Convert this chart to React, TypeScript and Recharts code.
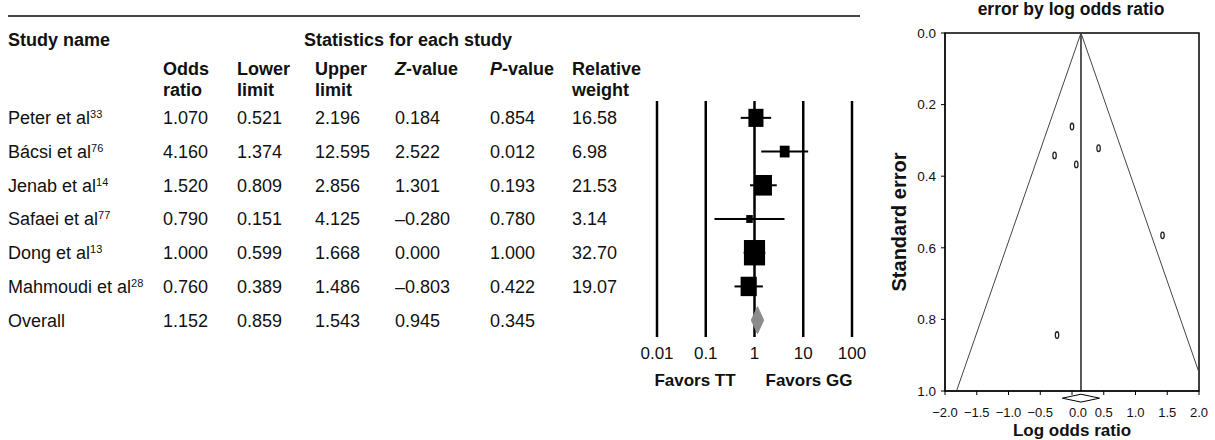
import React from 'react';
import {
  ComposedChart,
  ScatterChart,
  Scatter,
  XAxis,
  YAxis,
  ReferenceLine,
  ReferenceArea,
  ErrorBar,
} from 'recharts';

// study table
const studies = ['Peter et al', 'Bácsi et al', 'Jenab et al', 'Safaei et al', 'Dong et al', 'Mahmoudi et al'];
const refs = ['33', '76', '14', '77', '13', '28'];
const oddsRatio = [1.07, 4.16, 1.52, 0.79, 1.0, 0.76];
const lowerLimit = [0.521, 1.374, 0.809, 0.151, 0.599, 0.389];
const upperLimit = [2.196, 12.595, 2.856, 4.125, 1.668, 1.486];
const zValue = [0.184, 2.522, 1.301, -0.28, 0.0, -0.803];
const pValue = [0.854, 0.012, 0.193, 0.78, 1.0, 0.422];
const relWeight = [16.58, 6.98, 21.53, 3.14, 32.7, 19.07];
// overall: odds ratio, lower, upper, z, p
const overallStats = [1.152, 0.859, 1.543, 0.945, 0.345];

const forestTicks = [0.01, 0.1, 1, 10, 100];
const funnelXTicks = [-2, -1.5, -1, -0.5, 0, 0.5, 1, 1.5, 2];
const funnelYTicks = [0, 0.2, 0.4, 0.6, 0.8, 1.0];

const COLS = [163, 237, 315, 395, 490, 572];
const FONT = 'Arial, "Liberation Sans", Helvetica, sans-serif';
const INK = '#111';

const f3 = (v: number) => (v < 0 ? '–' : '') + Math.abs(v).toFixed(3);

const forestRows = studies.map((name, i) => ({
  x: oddsRatio[i],
  y: i,
  err: [oddsRatio[i] - lowerLimit[i], upperLimit[i] - oddsRatio[i]],
  w: relWeight[i],
}));

const ovRow = studies.length;
const overallDiamond = [
  { x: overallStats[1], y: ovRow },
  { x: overallStats[0], y: ovRow - 0.4 },
  { x: overallStats[2], y: ovRow },
  { x: overallStats[0], y: ovRow + 0.4 },
  { x: overallStats[1], y: ovRow },
];

// funnel: log odds ratio vs standard error
const funnelPts = studies.map((_, i) => ({
  x: Math.log(oddsRatio[i]),
  y: (Math.log(upperLimit[i]) - Math.log(lowerLimit[i])) / (2 * 1.96),
}));
const pooled = Math.log(overallStats[0]);
const pooledLo = Math.log(overallStats[1]);
const pooledHi = Math.log(overallStats[2]);
const DIAMOND_Y = 1.02;
const DIAMOND_H = 0.011;

const RowTick = (props: any) => {
  const { y, payload } = props;
  const i = payload.value as number;
  let name = 'Overall';
  let sup = '';
  let cells: string[] = [];
  if (i < studies.length) {
    name = studies[i];
    sup = refs[i];
    cells = [f3(oddsRatio[i]), f3(lowerLimit[i]), f3(upperLimit[i]), f3(zValue[i]), f3(pValue[i]), relWeight[i].toFixed(2)];
  } else {
    cells = overallStats.map(f3);
  }
  return (
    <g fill={INK} fontSize={18}>
      <text x={8} y={y} dy="0.36em">
        {name}
        {sup && (
          <tspan fontSize={11} dy={-6}>
            {sup}
          </tspan>
        )}
      </text>
      {cells.map((c, j) => (
        <text key={j} x={COLS[j]} y={y} dy="0.36em">
          {c}
        </text>
      ))}
    </g>
  );
};

const WeightBox = (props: any) => {
  const { cx, cy, payload } = props;
  const w = 3.7 * Math.sqrt(payload.w);
  const h = w * 1.2;
  return <rect x={cx - w / 2} y={cy - h / 2} width={w} height={h} fill="#000" />;
};

const StudyDot = (props: any) => {
  const { cx, cy } = props;
  return <ellipse cx={cx} cy={cy} rx={1.7} ry={3.3} fill="none" stroke="#222" strokeWidth={1.3} />;
};

const FunnelXTick = (props: any) => {
  const { x, y, payload } = props;
  const v = payload.value as number;
  const label = (v < 0 ? '−' : '') + Math.abs(v).toFixed(1);
  return (
    <text x={x + (v === 0 ? 6 : 0)} y={y} dy="0.71em" textAnchor="middle" fontSize={13} fill={INK}>
      {label}
    </text>
  );
};

const Nothing = () => <g />;

export default function App() {
  return (
    <div style={{ position: 'relative', width: 1215, height: 440, overflow: 'hidden', fontFamily: FONT, background: '#fff' }}>
      <style>{`body{margin:0}`}</style>

      {/* forest plot with table rows as y ticks */}
      <div style={{ position: 'absolute', left: 0, top: 0 }}>
        <ComposedChart width={870} height={440} margin={{ top: 101, right: 18, bottom: 73, left: 0 }}>
          <XAxis
            type="number"
            dataKey="x"
            scale="log"
            domain={[0.01, 100]}
            ticks={forestTicks}
            interval={0}
            allowDataOverflow
            tickFormatter={(v) => String(v)}
            axisLine={false}
            tickLine={false}
            tickSize={0}
            tickMargin={10}
            height={30}
            tick={{ fill: INK, fontSize: 17 }}
          />
          <YAxis
            type="number"
            dataKey="y"
            domain={[-0.5, 6.5]}
            reversed
            allowDataOverflow
            ticks={[0, 1, 2, 3, 4, 5, 6]}
            interval={0}
            width={657}
            axisLine={false}
            tickLine={false}
            tick={<RowTick />}
          />
          {forestTicks.map((t) => (
            <ReferenceLine key={t} x={t} stroke="#000" strokeWidth={2.5} />
          ))}
          <Scatter data={forestRows} shape={<WeightBox />} isAnimationActive={false}>
            <ErrorBar dataKey="err" direction="x" width={0} stroke="#000" strokeWidth={2} />
          </Scatter>
          <Scatter
            data={overallDiamond}
            shape={<Nothing />}
            line={{ fill: '#8c8c8c', stroke: '#8c8c8c', strokeWidth: 1 }}
            lineType="joint"
            isAnimationActive={false}
          />
        </ComposedChart>
      </div>

      {/* funnel plot */}
      <div style={{ position: 'absolute', left: 880, top: 0 }}>
        <ScatterChart width={335} height={440} margin={{ top: 33, right: 16, bottom: 19, left: 0 }}>
          <XAxis
            type="number"
            dataKey="x"
            domain={[-2, 2]}
            ticks={funnelXTicks}
            interval={0}
            allowDataOverflow
            height={30}
            tickSize={4}
            tickMargin={13}
            stroke="#000"
            tick={<FunnelXTick />}
          />
          <YAxis
            type="number"
            dataKey="y"
            domain={[0, 1]}
            reversed
            allowDataOverflow
            ticks={funnelYTicks}
            interval={0}
            width={65}
            tickSize={4}
            tickMargin={5}
            stroke="#000"
            tickFormatter={(v) => Number(v).toFixed(1)}
            tick={{ fill: INK, fontSize: 13.5 }}
          />
          <ReferenceArea x1={-2} x2={2} y1={0} y2={1} fill="none" stroke="#000" strokeWidth={1.5} ifOverflow="visible" />
          <ReferenceLine x={pooled} stroke="#000" strokeWidth={1.3} />
          <ReferenceLine
            segment={[{ x: pooled, y: 0 }, { x: pooled - 1.96, y: 1 }]}
            stroke="#444"
            strokeWidth={1}
            ifOverflow="hidden"
          />
          <ReferenceLine
            segment={[{ x: pooled, y: 0 }, { x: pooled + 1.96, y: 1 }]}
            stroke="#444"
            strokeWidth={1}
            ifOverflow="hidden"
          />
          <ReferenceLine segment={[{ x: pooledLo, y: DIAMOND_Y }, { x: pooled, y: DIAMOND_Y - DIAMOND_H }]} stroke="#000" ifOverflow="visible" />
          <ReferenceLine segment={[{ x: pooled, y: DIAMOND_Y - DIAMOND_H }, { x: pooledHi, y: DIAMOND_Y }]} stroke="#000" ifOverflow="visible" />
          <ReferenceLine segment={[{ x: pooledHi, y: DIAMOND_Y }, { x: pooled, y: DIAMOND_Y + DIAMOND_H }]} stroke="#000" ifOverflow="visible" />
          <ReferenceLine segment={[{ x: pooled, y: DIAMOND_Y + DIAMOND_H }, { x: pooledLo, y: DIAMOND_Y }]} stroke="#000" ifOverflow="visible" />
          <Scatter data={funnelPts} shape={<StudyDot />} isAnimationActive={false} />
        </ScatterChart>
      </div>

      {/* headings and axis titles */}
      <svg width={1215} height={440} style={{ position: 'absolute', left: 0, top: 0, pointerEvents: 'none' }}>
        <line x1={8} x2={860} y1={16} y2={16} stroke="#444" strokeWidth={2} />
        <g fill={INK} fontSize={18} fontWeight="bold">
          <text x={8} y={45.5}>Study name</text>
          <text x={408} y={45.5} textAnchor="middle">Statistics for each study</text>
          <text x={COLS[0]} y={74.5}>Odds</text>
          <text x={COLS[0]} y={95.5}>ratio</text>
          <text x={COLS[1]} y={74.5}>Lower</text>
          <text x={COLS[1]} y={95.5}>limit</text>
          <text x={COLS[2]} y={74.5}>Upper</text>
          <text x={COLS[2]} y={95.5}>limit</text>
          <text x={COLS[3]} y={74.5}>
            <tspan fontStyle="italic">Z</tspan>-value
          </text>
          <text x={COLS[4]} y={74.5}>
            <tspan fontStyle="italic">P</tspan>-value
          </text>
          <text x={COLS[5]} y={74.5}>Relative</text>
          <text x={COLS[5]} y={95.5}>weight</text>
        </g>
        <g fill={INK} fontSize={17} fontWeight="bold" textAnchor="middle">
          <text x={695} y={386}>Favors TT</text>
          <text x={809} y={386}>Favors GG</text>
        </g>
        <g fill={INK} fontWeight="bold" textAnchor="middle">
          <text x={1071} y={15} fontSize={17.5}>error by log odds ratio</text>
          <text x={1072} y={436} fontSize={17}>Log odds ratio</text>
          <text x={0} y={0} fontSize={20} transform="translate(906 222) rotate(-90)">Standard error</text>
        </g>
      </svg>
    </div>
  );
}
